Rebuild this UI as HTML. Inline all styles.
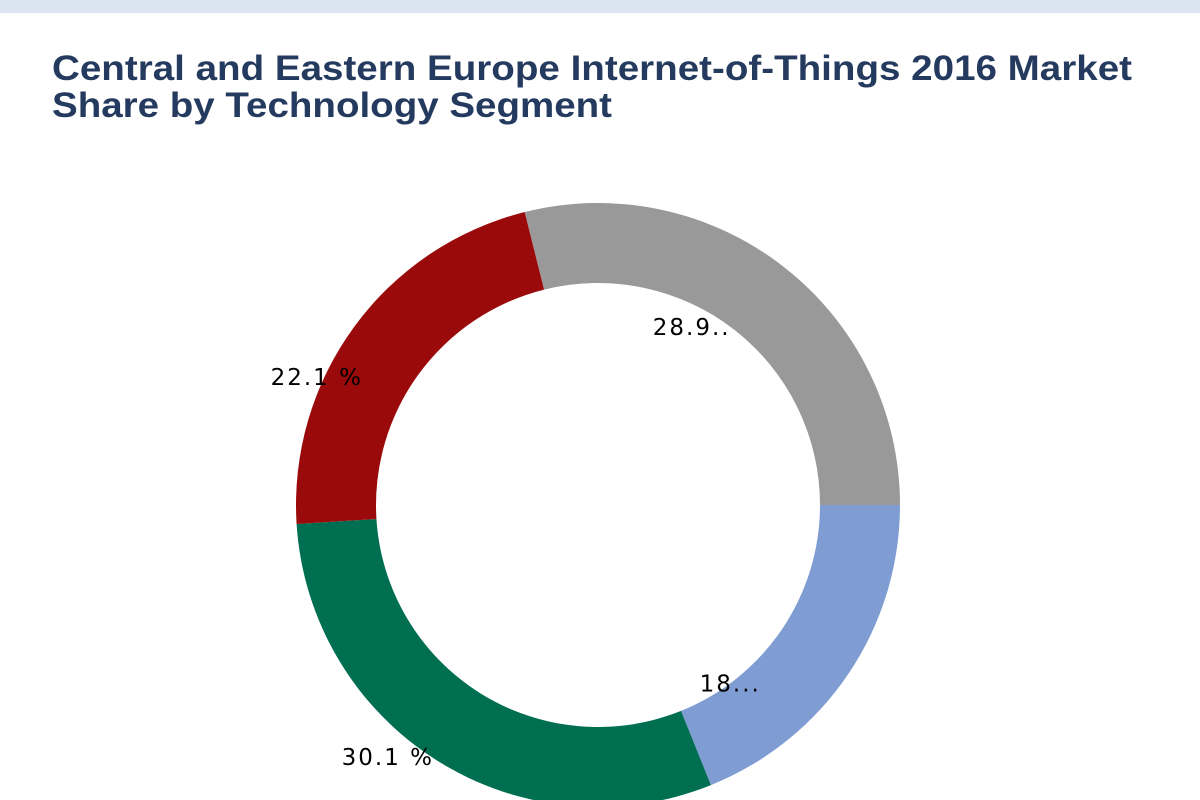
<!DOCTYPE html>
<html><head><meta charset="utf-8"><style>
html,body{margin:0;padding:0;background:#fff;width:1200px;height:800px;overflow:hidden}
</style></head><body>
<svg id="chart" width="1200" height="800" xmlns="http://www.w3.org/2000/svg">
<rect x="0" y="0" width="1200" height="13" fill="#dbe5f1"/>
<text x="52" y="80" font-family="Liberation Sans, sans-serif" font-weight="bold" font-size="35" fill="#243a5e" textLength="1080" lengthAdjust="spacingAndGlyphs">Central and Eastern Europe Internet-of-Things 2016 Market</text>
<text x="52" y="117" font-family="Liberation Sans, sans-serif" font-weight="bold" font-size="35" fill="#243a5e" textLength="560" lengthAdjust="spacingAndGlyphs">Share by Technology Segment</text>
<g id="slices"></g>
<g id="labels"></g>
</svg>
<script>
const categories = ["Segment A", "Segment B", "Segment C", "Segment D"];
const values = [18.9, 30.1, 22.1, 28.9];
const valueLabels = ["18...", "30.1 %", "22.1 %", "28.9.."];
const colors = ["#7f9dd2", "#006e51", "#9b0a0a", "#999999"];
// label layout (radius, angle offset in radians) relative to slice midpoint
const labelLayout = [[222, 0.339], [328, 0.133], [309, -0.204], [201, -0.178]];
const cx = 598, cy = 505, R = 302, r = 222;
const total = values.reduce((a,b)=>a+b,0);
const ns = "http://www.w3.org/2000/svg";
const gS = document.getElementById("slices"), gL = document.getElementById("labels");
let a0 = 0;
function pt(rad, a){ return [cx + rad*Math.cos(a), cy + rad*Math.sin(a)]; }
values.forEach((v,i)=>{
  const a1 = a0 + v/total*2*Math.PI;
  const large = (a1-a0) > Math.PI ? 1 : 0;
  const [x0,y0]=pt(R,a0),[x1,y1]=pt(R,a1),[x2,y2]=pt(r,a1),[x3,y3]=pt(r,a0);
  const p = document.createElementNS(ns,"path");
  p.setAttribute("d",`M${x0},${y0} A${R},${R} 0 ${large} 1 ${x1},${y1} L${x2},${y2} A${r},${r} 0 ${large} 0 ${x3},${y3} Z`);
  p.setAttribute("fill",colors[i]);
  
  
  gS.appendChild(p);
  const am = (a0+a1)/2 + labelLayout[i][1];
  const [lx,ly] = pt(labelLayout[i][0], am);
  const t = document.createElementNS(ns,"text");
  t.setAttribute("x", lx);
  t.setAttribute("y", ly + 8);
  t.setAttribute("text-anchor","middle");
  t.setAttribute("font-family","DejaVu Sans, sans-serif");
  t.setAttribute("font-size","23");
  t.setAttribute("letter-spacing","2");
  t.setAttribute("fill","#000");
  t.textContent = valueLabels[i];
  
  
  gL.appendChild(t);
  a0 = a1;
});
</script>
</body></html>
